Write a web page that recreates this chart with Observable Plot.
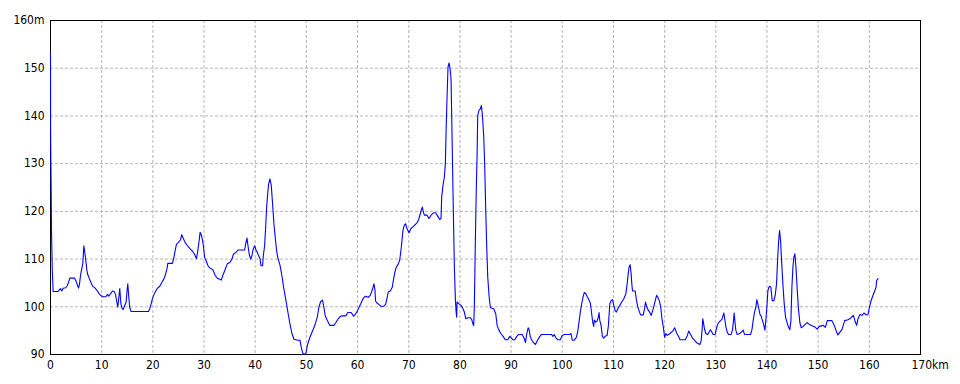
<!DOCTYPE html>
<html>
<head>
<meta charset="utf-8">
<script src="https://cdn.jsdelivr.net/npm/d3@7"></script>
<script src="https://cdn.jsdelivr.net/npm/@observablehq/plot@0.6"></script>
<style>
  html, body { margin: 0; padding: 0; background: #fff; }
  #chart { width: 960px; height: 384px; }
</style>
</head>
<body>
<div id="chart"></div>
<script>
// Distance along the route (km)
const distanceKm = [
  0, 0.02, 0.2, 0.35, 0.52, 1.43, 1.76, 1.95, 2.21, 2.47, 2.99, 3.26, 3.52, 3.78, 4.69, 4.95, 5.21, 5.47, 5.66, 5.86,
  6.05, 6.32, 6.51, 6.64, 6.90, 7.10, 7.29, 7.55, 7.81, 8.20, 8.72, 9.11, 9.51, 9.90, 10.29, 10.81, 11.13, 11.39, 11.72, 12.11,
  12.43, 12.70, 12.96, 13.15, 13.35, 13.54, 13.74, 13.93, 14.19, 14.45, 14.78, 14.97, 15.10, 15.30, 15.49, 15.76, 19.14, 19.40, 19.66, 19.92,
  20.31, 20.83, 21.35, 21.74, 22.14, 22.40, 22.79, 22.92, 23.83, 24.09, 24.35, 24.61, 25.00, 25.39, 25.65, 25.91, 26.30, 26.69, 27.08, 27.47,
  27.73, 28.13, 28.52, 28.78, 29.04, 29.23, 29.43, 29.69, 29.87, 30.13, 30.39, 30.78, 31.17, 31.69, 31.95, 32.21, 32.60, 32.99, 33.38, 33.64,
  33.90, 34.29, 34.55, 35.07, 35.47, 35.73, 36.25, 36.64, 37.94, 38.20, 38.39, 38.59, 38.85, 39.11, 39.37, 39.56, 39.89, 40.15, 40.41, 40.67,
  40.93, 41.13, 41.45, 41.58, 41.84, 42.04, 42.23, 42.43, 42.62, 42.88, 43.14, 43.40, 43.66, 43.92, 44.18, 44.44, 44.83, 45.22, 45.61, 46.01,
  46.40, 46.79, 47.18, 47.57, 48.35, 48.74, 49.00, 49.26, 49.52, 49.91, 50.17, 50.56, 50.95, 51.34, 51.73, 52.12, 52.45, 52.78, 53.16, 53.42,
  53.68, 54.07, 54.59, 55.37, 55.77, 56.16, 56.55, 56.94, 57.72, 58.11, 58.76, 59.22, 59.61, 60.00, 60.39, 60.78, 61.17, 61.57, 62.09, 62.48,
  62.74, 63.00, 63.20, 63.39, 63.52, 63.78, 64.17, 64.57, 65.09, 65.48, 65.74, 66.00, 66.39, 66.78, 67.05, 67.31, 67.57, 67.96, 68.22, 68.48,
  68.68, 68.87, 69.13, 69.39, 69.65, 70.05, 70.44, 70.96, 71.35, 71.74, 72.00, 72.26, 72.46, 72.66, 72.85, 73.05, 73.57, 73.96, 74.35, 74.87,
  75.26, 75.66, 76.05, 76.31, 76.44, 76.70, 76.96, 77.16, 77.29, 77.49, 77.68, 77.88, 78.07, 78.27, 78.46, 78.73, 78.92, 79.11, 79.24, 79.37,
  79.44, 79.83, 80.22, 80.61, 80.87, 81.14, 81.53, 82.05, 82.31, 82.57, 82.70, 82.83, 82.96, 83.09, 83.22, 83.35, 83.48, 83.74, 84.00, 84.20,
  84.40, 84.66, 84.85, 85.05, 85.24, 85.44, 85.70, 85.96, 86.61, 87.01, 87.27, 87.66, 88.06, 88.45, 88.85, 89.35, 89.74, 90.33, 90.72, 91.11,
  91.50, 92.16, 92.55, 92.81, 93.07, 93.33, 93.53, 93.73, 93.99, 94.38, 94.77, 95.16, 95.56, 95.95, 97.12, 97.91, 98.17, 98.43, 98.69, 99.08,
  99.61, 100.00, 100.39, 101.44, 101.70, 101.96, 102.35, 102.75, 103.00, 103.27, 103.53, 103.79, 104.05, 104.31, 104.58, 104.84, 105.10, 105.49, 105.75, 105.95,
  106.14, 106.27, 106.54, 106.80, 107.06, 107.19, 107.32, 107.58, 107.84, 108.10, 108.37, 108.76, 109.02, 109.28, 109.54, 109.80, 110.07, 110.33, 110.59, 110.85,
  111.24, 111.63, 112.03, 112.42, 112.68, 112.88, 113.07, 113.27, 113.46, 113.59, 113.73, 114.25, 114.51, 114.77, 115.03, 115.29, 115.82, 116.08, 116.27, 116.47,
  116.73, 117.00, 117.39, 117.78, 118.17, 118.43, 118.69, 118.95, 119.22, 119.48, 119.74, 120.00, 120.26, 120.52, 121.05, 121.57, 121.96, 122.35, 122.75, 123.01,
  124.05, 124.44, 124.71, 124.97, 125.43, 125.83, 126.35, 126.87, 127.13, 127.32, 127.45, 127.58, 127.78, 128.04, 128.43, 128.70, 128.96, 129.22, 129.48, 129.87,
  130.13, 130.39, 130.65, 130.91, 131.17, 131.44, 131.57, 131.70, 131.96, 132.22, 132.48, 133.00, 133.26, 133.46, 133.59, 133.72, 133.91, 134.17, 134.70, 135.09,
  135.35, 135.61, 136.78, 137.05, 137.31, 137.57, 137.83, 138.02, 138.22, 138.41, 138.61, 138.87, 139.13, 139.39, 139.59, 139.78, 139.98, 140.18, 140.37, 140.57,
  140.76, 141.02, 141.35, 141.61, 141.87, 142.07, 142.26, 142.46, 142.66, 142.85, 143.11, 143.37, 143.63, 143.90, 144.16, 144.48, 144.68, 144.87, 145.07, 145.26,
  145.46, 145.66, 145.92, 146.18, 146.44, 146.70, 147.09, 147.48, 147.87, 148.27, 148.66, 149.05, 149.44, 149.83, 150.22, 151.00, 151.40, 151.79, 152.70, 153.22,
  153.61, 153.87, 154.27, 154.66, 155.18, 155.83, 156.35, 156.88, 157.27, 157.53, 157.79, 158.18, 158.57, 158.96, 159.35, 159.75, 160.00, 160.27, 160.65, 161.05,
  161.31, 161.44, 161.70
];

// Elevation (m)
const elevationM = [
  153.0, 137.0, 116.0, 107.5, 103.2, 103.2, 103.6, 103.8, 103.3, 103.9, 104.0, 104.4, 105.1, 106.0, 106.0, 105.5, 104.7, 103.9, 104.7, 106.5,
  107.7, 109.1, 112.8, 111.9, 109.7, 107.7, 106.7, 106.0, 105.3, 104.4, 103.9, 103.4, 102.7, 102.3, 102.1, 102.1, 102.6, 102.2, 102.7, 103.3,
  103.2, 102.6, 101.0, 99.9, 101.9, 103.8, 100.8, 99.8, 99.4, 100.1, 101.0, 103.5, 104.8, 102.0, 99.8, 99.0, 99.0, 99.6, 100.6, 101.7,
  102.8, 103.8, 104.3, 105.1, 105.8, 106.5, 108.1, 109.1, 109.1, 110.2, 111.7, 113.1, 113.5, 114.0, 115.1, 114.4, 113.5, 112.9, 112.4, 111.9,
  111.7, 111.0, 110.1, 111.7, 113.8, 115.6, 115.2, 114.0, 112.8, 110.3, 109.7, 108.6, 108.1, 107.8, 107.2, 106.5, 106.0, 105.8, 105.6, 106.5,
  107.2, 108.3, 109.0, 109.3, 110.0, 111.0, 111.4, 111.9, 111.9, 113.5, 114.4, 112.8, 110.9, 110.0, 110.7, 111.9, 112.8, 111.9, 111.4, 110.7,
  110.1, 108.6, 108.6, 110.7, 112.8, 116.6, 120.8, 123.6, 125.7, 126.8, 125.4, 121.5, 117.3, 114.5, 111.7, 110.2, 108.8, 106.5, 103.7, 101.3,
  98.8, 96.4, 94.4, 93.2, 93.0, 93.0, 91.5, 90.4, 90.0, 90.2, 91.8, 93.2, 94.3, 95.3, 96.4, 97.8, 99.9, 101.1, 101.4, 99.9,
  98.1, 97.2, 96.1, 96.1, 96.7, 97.4, 97.9, 98.1, 98.1, 98.8, 98.8, 98.0, 98.5, 99.2, 100.1, 101.0, 101.9, 102.2, 102.0, 102.4,
  103.1, 104.0, 104.8, 103.6, 101.2, 100.8, 100.5, 100.1, 100.1, 100.5, 101.7, 103.1, 103.3, 104.1, 105.9, 107.3, 108.3, 109.0, 109.7, 111.8,
  113.9, 116.0, 117.1, 117.4, 116.4, 115.5, 116.4, 116.9, 117.3, 117.8, 118.5, 119.5, 120.3, 120.9, 119.9, 119.2, 119.2, 118.5, 119.2, 119.7,
  119.7, 119.0, 118.3, 118.5, 123.0, 125.5, 127.2, 130.0, 136.3, 144.0, 150.3, 151.1, 149.9, 147.8, 135.9, 119.2, 108.3, 101.7, 99.2, 97.8,
  101.0, 100.6, 100.3, 99.6, 98.9, 97.5, 97.7, 97.7, 97.3, 96.3, 96.1, 100.6, 109.7, 118.5, 125.8, 131.4, 140.1, 141.2, 141.5, 142.2,
  140.1, 135.6, 129.3, 120.2, 112.5, 106.2, 102.2, 99.8, 99.6, 98.5, 96.1, 95.0, 94.3, 93.8, 93.1, 93.1, 93.8, 93.1, 93.1, 93.8,
  94.2, 94.2, 93.4, 92.5, 94.4, 95.6, 95.2, 93.8, 93.1, 92.5, 92.1, 93.0, 93.7, 94.2, 94.2, 94.2, 93.8, 94.2, 93.6, 93.1,
  93.1, 94.0, 94.2, 94.2, 94.4, 93.0, 93.0, 93.6, 94.7, 96.8, 98.9, 100.6, 102.0, 103.0, 102.8, 102.2, 101.7, 100.8, 98.5, 96.8,
  95.9, 97.2, 96.8, 97.0, 97.9, 98.8, 97.2, 96.1, 93.8, 93.4, 93.8, 94.0, 96.1, 100.6, 101.3, 101.5, 100.3, 99.2, 98.9, 99.6,
  100.3, 101.0, 101.7, 102.7, 104.8, 106.9, 108.4, 108.8, 106.9, 104.8, 103.3, 103.3, 101.3, 99.9, 99.1, 98.3, 98.3, 99.6, 101.0, 100.1,
  99.4, 99.0, 98.2, 99.6, 101.3, 102.4, 102.0, 101.3, 100.1, 97.5, 95.8, 93.6, 94.4, 94.0, 94.4, 94.9, 95.6, 94.5, 93.7, 93.1,
  93.1, 94.0, 94.9, 94.4, 93.5, 93.0, 92.4, 92.1, 92.8, 95.1, 97.5, 96.8, 95.4, 94.4, 94.2, 94.7, 95.2, 94.7, 94.2, 94.2,
  95.4, 96.4, 96.8, 97.1, 97.3, 98.2, 98.7, 97.8, 95.9, 94.7, 94.2, 94.2, 95.1, 97.1, 98.7, 97.1, 95.1, 94.2, 94.4, 94.8,
  95.1, 94.2, 94.2, 95.1, 97.1, 98.9, 99.9, 101.5, 100.6, 99.6, 98.5, 98.0, 97.1, 96.1, 95.1, 97.1, 99.9, 103.4, 104.1, 104.3,
  104.1, 101.3, 101.3, 102.4, 104.8, 109.7, 113.5, 116.0, 113.9, 109.7, 104.8, 100.6, 97.8, 96.8, 95.9, 95.2, 97.1, 104.1, 108.3, 110.4,
  111.1, 108.3, 103.4, 99.2, 96.6, 95.6, 95.9, 96.3, 96.7, 96.3, 96.1, 95.9, 95.7, 95.3, 95.9, 96.1, 95.7, 97.1, 97.1, 95.9,
  94.7, 94.1, 94.7, 95.2, 97.1, 97.3, 97.6, 98.2, 96.8, 96.1, 97.5, 98.4, 98.2, 98.7, 98.3, 98.4, 99.8, 101.0, 102.2, 103.3,
  104.1, 105.5, 105.9
];

// Axis ticks and grid lines
const xTicks = d3.range(0, 171, 10);
const yTicks = d3.range(90, 161, 10);
const xGridLines = d3.range(10, 170, 10);
const yGridLines = d3.range(100, 160, 10);
const xUnit = "km";
const yUnit = "m";

const profile = distanceKm.map((d, i) => ({km: d, m: elevationM[i]}));

const gridStyle = {stroke: "#b4b4b4", strokeOpacity: 1, strokeWidth: 1, strokeDasharray: "3,2"};

const chart = Plot.plot({
  width: 960,
  height: 384,
  marginLeft: 50,
  marginRight: 40,
  marginTop: 20,
  marginBottom: 30,
  style: {fontFamily: "'DejaVu Sans Condensed', 'DejaVu Sans', sans-serif", fontSize: "12px", color: "#000", background: "#fff"},
  x: {domain: [0, 170], label: null},
  y: {domain: [90, 160], label: null},
  marks: [
    Plot.gridX(xGridLines, gridStyle),
    Plot.gridY(yGridLines, gridStyle),
    Plot.frame({stroke: "#000", strokeWidth: 1}),
    Plot.axisY(yTicks, {tickSize: 0, tickPadding: 6, tickFormat: d => d === 160 ? `${d}${yUnit}` : `${d}`}),
    Plot.axisX(xTicks.filter(d => d !== 170), {tickSize: 0, tickPadding: 6, tickFormat: d => `${d}`}),
    Plot.axisX([170], {tickSize: 0, tickPadding: 6, textAnchor: "start", dx: -9, tickFormat: d => `${d}${xUnit}`}),
    Plot.line(profile, {x: "km", y: "m", stroke: "#0000ff", strokeWidth: 1.1})
  ]
});

document.getElementById("chart").appendChild(chart);
</script>
</body>
</html>
